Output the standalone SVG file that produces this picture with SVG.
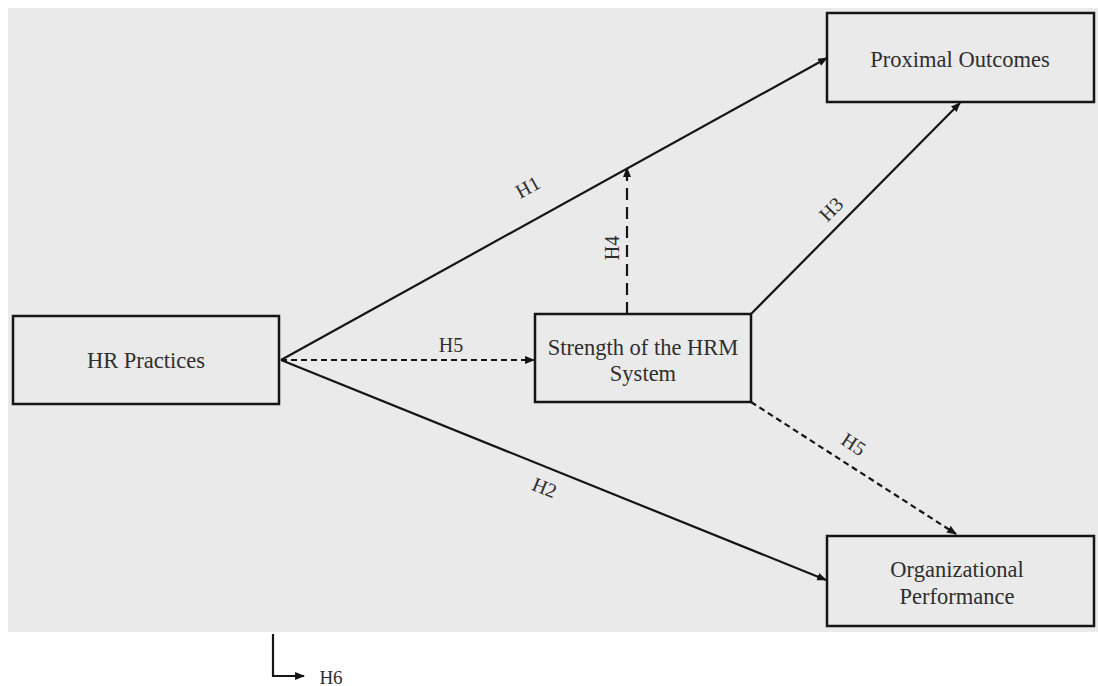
<svg xmlns="http://www.w3.org/2000/svg" width="1098" height="686" viewBox="0 0 1098 686">
<style>
.box{fill:none;stroke:#151515;stroke-width:2.5}
.lbl{font-family:"Liberation Serif","Times New Roman",serif;font-size:22.5px;fill:#2e2e2e;text-anchor:middle}
.h{font-family:"Liberation Serif","Times New Roman",serif;font-size:20px;fill:#2e2e2e;text-anchor:middle}
.ln{fill:none;stroke:#151515;stroke-width:2.2}
.dash{stroke-dasharray:6 4}
.ldash{stroke-dasharray:12 7}
</style>
<defs>
<marker id="ah" viewBox="0 0 10 10" refX="9" refY="5" markerWidth="4.5" markerHeight="4.5" markerUnits="strokeWidth" orient="auto">
<path d="M0,1 L10,5 L0,9 z" fill="#151515"/>
</marker>
</defs>
<rect x="8" y="8" width="1090" height="624" fill="#eaeaea"/>
<g id="connectors">
<line class="ln" x1="281" y1="360" x2="827" y2="58" marker-end="url(#ah)"/>
<line class="ln" x1="281" y1="360" x2="826" y2="580" marker-end="url(#ah)"/>
<line class="ln dash" x1="281" y1="360" x2="534" y2="360" marker-end="url(#ah)"/>
<line class="ln" x1="751" y1="314" x2="960" y2="103" marker-end="url(#ah)"/>
<line class="ln ldash" x1="627" y1="314" x2="627" y2="168" marker-end="url(#ah)"/>
<line class="ln dash" x1="751" y1="402" x2="956" y2="534" marker-end="url(#ah)"/>
<polyline class="ln" points="273,634 273,676 304,676" marker-end="url(#ah)"/>
<text class="h" transform="translate(531,193) rotate(-29)">H1</text>
<text class="h" transform="translate(619,248) rotate(-90)">H4</text>
<text class="h" transform="translate(836,214) rotate(-45)">H3</text>
<text class="h" x="451" y="352">H5</text>
<text class="h" transform="translate(850,450) rotate(33)">H5</text>
<text class="h" transform="translate(542,494) rotate(22)">H2</text>
<text class="h" x="331" y="684" style="font-size:19px">H6</text>
</g>
<g id="hr-practices">
<rect class="box" x="13" y="316" width="266" height="88"/>
<text class="lbl" x="146" y="368">HR Practices</text>
</g>
<g id="strength">
<rect class="box" x="535" y="314" width="216" height="88"/>
<text class="lbl" x="643" y="355">Strength of the HRM</text>
<text class="lbl" x="643" y="381">System</text>
</g>
<g id="proximal">
<rect class="box" x="827" y="13" width="267" height="89"/>
<text class="lbl" x="960" y="67">Proximal Outcomes</text>
</g>
<g id="organizational">
<rect class="box" x="827" y="536" width="267" height="90"/>
<text class="lbl" x="957" y="577">Organizational</text>
<text class="lbl" x="957" y="604">Performance</text>
</g>
</svg>
